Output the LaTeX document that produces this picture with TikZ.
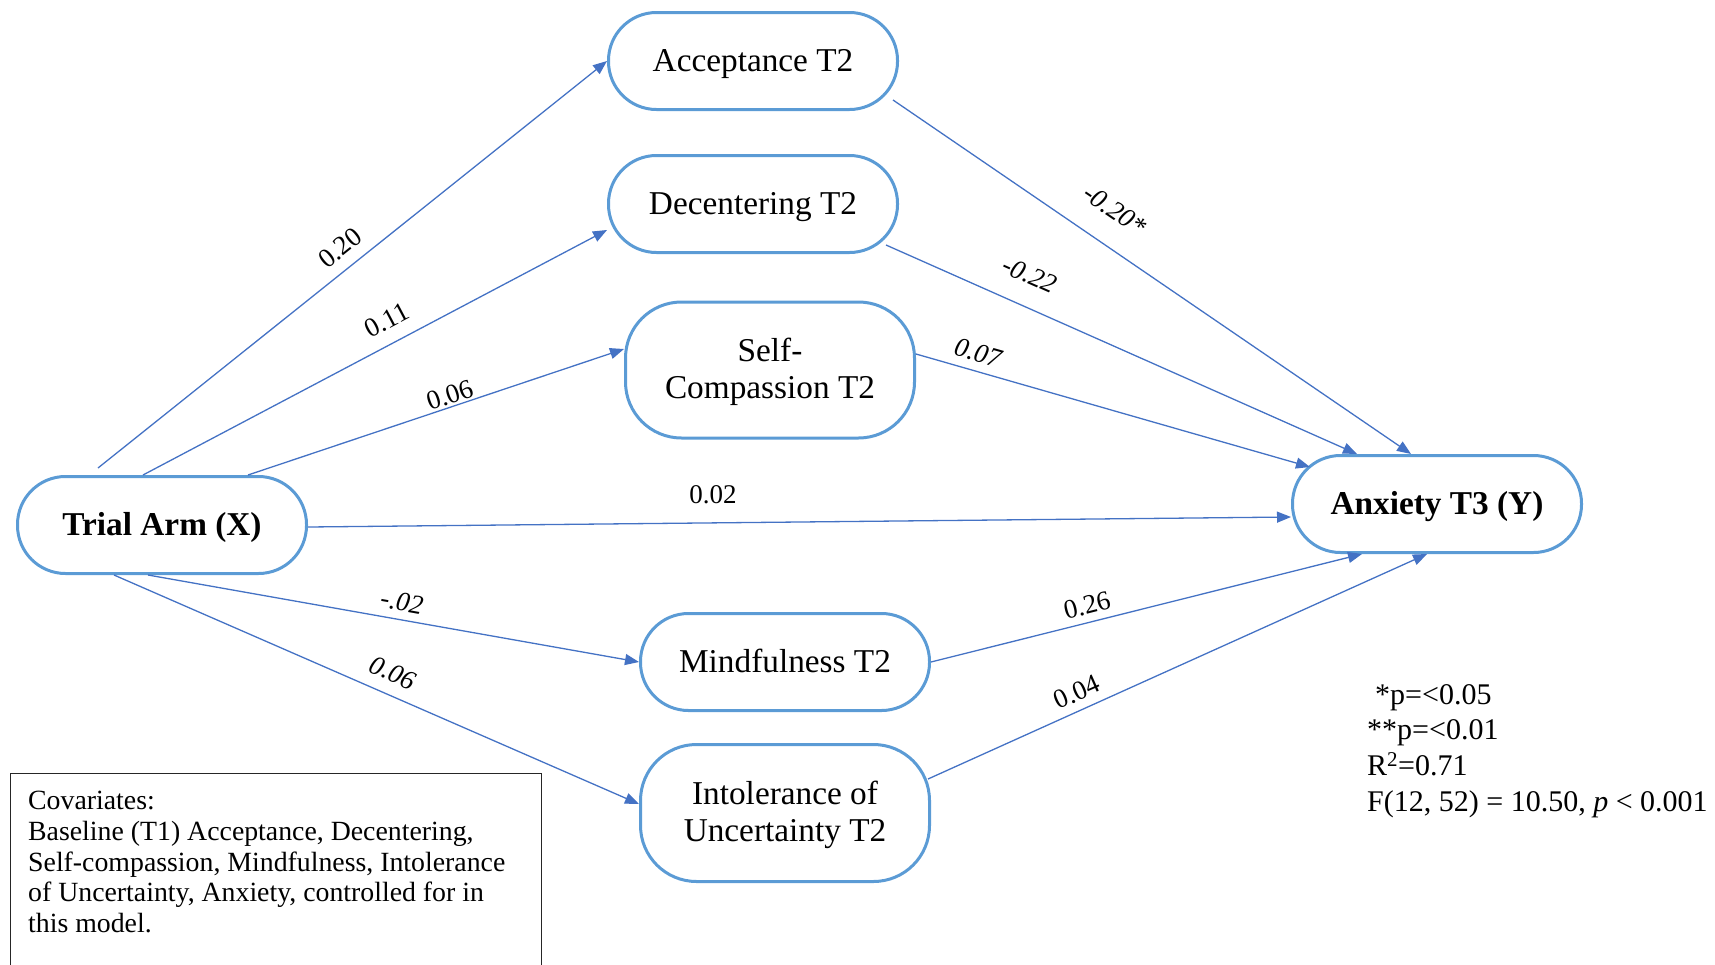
\documentclass[tikz,border=0pt]{standalone}
\usepackage{fontspec}
\setmainfont{Liberation Serif}
\usetikzlibrary{arrows.meta}
\definecolor{boxblue}{RGB}{91,155,213}
\definecolor{pathblue}{RGB}{68,114,196}
\newcommand{\twolines}[2]{\raisebox{-3pt}[\height][\depth]{\begin{tabular}{@{}c@{}}#1\\#2\end{tabular}}}
\tikzset{var/.style={draw=boxblue, line width=3pt, rounded corners=48pt, minimum width=289pt, minimum height=97pt, text height=25pt, text depth=4pt, font=\fontsize{33.3}{37}\selectfont}}
\tikzset{var bold/.style={var, font=\fontsize{33.3}{37}\selectfont\bfseries}}
\tikzset{var tall/.style={var, text height=, text depth=, minimum height=136pt, rounded corners=56pt}}
\tikzset{path it/.style={-{Triangle[length=14pt,width=11pt]}, draw=pathblue, line width=1.3pt}}
\tikzset{coef/.style={font=\fontsize{27}{32}\selectfont}}
\tikzset{coef it/.style={font=\fontsize{27}{32}\selectfont\itshape}}

\begin{document}
\begin{tikzpicture}[x=1pt,y=-1pt]
\useasboundingbox (0,0) rectangle (1715,964);
\node[var] (acc) at (753,61) {Acceptance T2};
\node[var] (dec) at (753,204) {Decentering T2};
\node[var tall] (self) at (770,370) {\twolines{Self-}{Compassion T2}};
\node[var bold] (trial) at (162,525) {Trial Arm (X)};
\node[var bold] (anx) at (1437,504) {Anxiety T3 (Y)};
\node[var] (mind) at (785,662) {Mindfulness T2};
\node[var tall, minimum height=137pt] (intol) at (785,813) {\twolines{Intolerance of}{Uncertainty T2}};
% a paths
\draw[path it] ([shift={(-64,-7)}]trial.north) -- (acc.west);
\draw[path it] ([shift={(-19,0)}]trial.north) -- ([shift={(0,26)}]dec.west);
\draw[path it] ([shift={(86,0)}]trial.north) -- ([shift={(0,-21)}]self.west);
\draw[path it] ([shift={(-14,0)}]trial.south) -- (mind.west);
\draw[path it] ([shift={(-48,0)}]trial.south) -- ([shift={(0,-9)}]intol.west);
% b paths
\draw[path it] ([shift={(-6,-11)}]acc.south east) -- ([shift={(-26,0)}]anx.north);
\draw[path it] ([shift={(-13,-9)}]dec.south east) -- ([shift={(-80,0)}]anx.north);
\draw[path it] ([shift={(0,-16)}]self.east) -- ([shift={(19,13)}]anx.north west);
\draw[path it] (mind.east) -- ([shift={(-75,0)}]anx.south);
\draw[path it] ([shift={(-3,-34)}]intol.east) -- ([shift={(-10,0)}]anx.south);
% direct path
\draw[path it] ([shift={(0,2)}]trial.east) -- ([shift={(0,13)}]anx.west);
% coefficients
\node[coef, rotate=38.6] (c1) at (340,248) {0.20};
\node[coef, rotate=27.9] (c2) at (387,320) {0.11};
\node[coef, rotate=18.7] (c3) at (450,395) {0.06};
\node[coef] (c4) at (713,495) {0.02};
\node[coef it, rotate=-10.1] (c5) at (402,602) {-.02};
\node[coef it, rotate=-23.7] (c6) at (393,673) {0.06};
\node[coef it, rotate=-34.1] (c7) at (1115,210) {-0.20*};
\node[coef it, rotate=-23.9] (c8) at (1030,275) {-0.22};
\node[coef it, rotate=-15.9] (c9) at (978,353) {0.07};
\node[coef, rotate=14.2] (c10) at (1087,605) {0.26};
\node[coef, rotate=23.9] (c11) at (1077,692) {0.04};
% notes
\node[anchor=north west, align=left, inner sep=0pt, font=\fontsize{30}{35.7}\selectfont] (stats) at (1367,684) {\hspace*{8pt}*p=<0.05\\**p=<0.01\\R\textsuperscript{2}=0.71\\F(12, 52) = 10.50, \textit{p} < 0.001};
\node[draw=black!85, line width=1.3pt, anchor=north west, minimum width=531pt, minimum height=210pt, inner sep=0pt] (covbox) at (10,773) {};
\node[anchor=north west, align=left, inner sep=0pt, font=\fontsize{27.8}{30.7}\selectfont] (cov) at (28,791) {Covariates:\\Baseline (T1) Acceptance, Decentering,\\Self-compassion, Mindfulness, Intolerance\\of Uncertainty, Anxiety, controlled for in\\this model.};
\end{tikzpicture}
\end{document}
